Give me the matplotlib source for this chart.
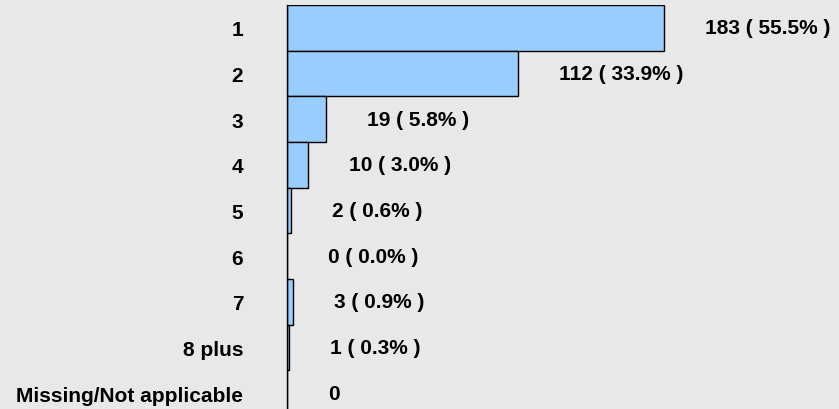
import matplotlib.pyplot as plt

# responses per category
categories = ["1", "2", "3", "4", "5", "6", "7", "8 plus", "Missing/Not applicable"]
counts = [183, 112, 19, 10, 2, 0, 3, 1, 0]
percents = ["55.5%", "33.9%", "5.8%", "3.0%", "0.6%", "0.0%", "0.9%", "0.3%", None]

plt.rcParams["font.family"] = ["Liberation Sans", "DejaVu Sans"]
plt.rcParams["font.weight"] = "bold"

bg = "#e8e8e8"
fig = plt.figure(figsize=(8.39, 4.10), dpi=100, facecolor=bg)
# axes: left edge at the axis line, runs off the bottom a little
ax = fig.add_axes([287 / 839, -7 / 410, 552 / 839, 411 / 410], facecolor=bg)

y = list(range(len(categories)))
ax.barh(y, counts, height=1.0, color="#99ccff", edgecolor="black", linewidth=1.0)

for yi, c, p in zip(y, counts, percents):
    label = f"{c} ( {p} )" if p is not None else f"{c}"
    ax.annotate(label, xy=(c, yi), xytext=(29.5, 0), textcoords="offset points",
                ha="left", va="center", fontsize=15, fontweight="bold")

ax.set_xlim(0, 552 / 2.06)
ax.set_ylim(len(categories) - 0.5, -0.5)
ax.set_yticks(y)
ax.set_yticklabels(categories, fontsize=15, fontweight="bold")
ax.tick_params(axis="y", length=0, pad=31.5)
ax.set_xticks([])
for s in ["top", "right", "bottom"]:
    ax.spines[s].set_visible(False)
ax.spines["left"].set_linewidth(1.0)

fig.savefig("out.png", dpi=100, facecolor=bg)
